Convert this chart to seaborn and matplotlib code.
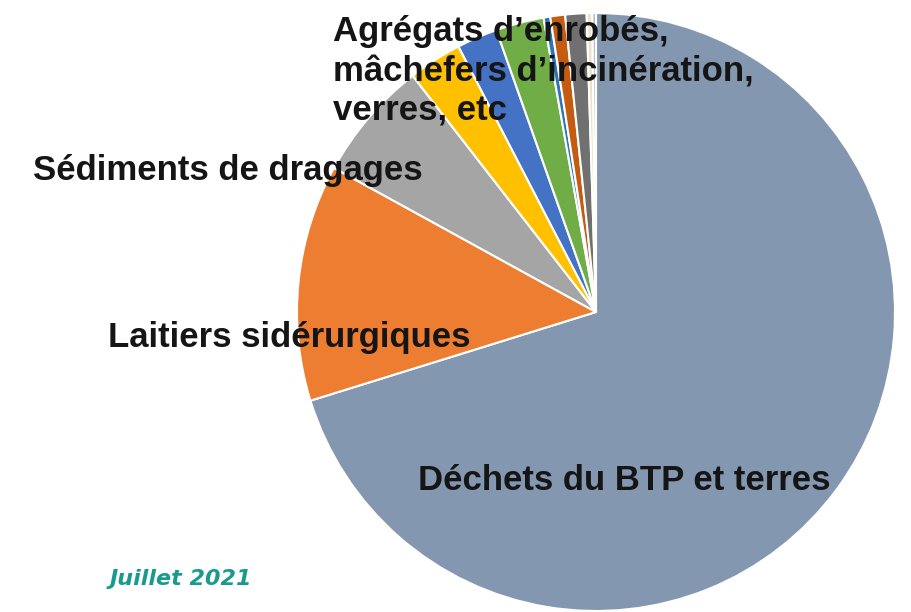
import matplotlib
matplotlib.use("Agg")
import matplotlib.pyplot as plt
import seaborn as sns

# ---- data (percent shares, clockwise from 12 o'clock) ----
categories = [
    "Déchets du BTP et terres",
    "Laitiers sidérurgiques",
    "Sédiments de dragages",
    "Agrégats d'enrobés",
    "Mâchefers d'incinération",
    "Verres",
    "Autres 1",
    "Autres 2",
    "Autres 3",
    "Autres 4",
    "Autres 5",
]
values = [70.25, 12.8, 6.5, 2.9, 2.2, 2.6, 0.36, 0.8, 1.15, 0.3, 0.2]
colors = ["#8497B0", "#ED7D31", "#A5A5A5", "#FFC000", "#4472C4", "#70AD47",
          "#2E75B6", "#C55A11", "#707070", "#E8E4C8", "#B4BDC8"]

labels_text = [
    "Déchets du BTP et terres",
    "Laitiers sidérurgiques",
    "Sédiments de dragages",
    "Agrégats d\u2019enrobés,\nmâchefers d\u2019incinération,\nverres, etc",
]
date_text = "Juillet 2021"

# ---- figure ----
sns.set_theme(style="white")
plt.rcParams["font.family"] = ["Liberation Sans", "DejaVu Sans"]

W, H = 911, 612
fig = plt.figure(figsize=(W / 100, H / 100), dpi=100)
ax = fig.add_axes([0, 0, 1, 1])

ax.pie(values, colors=colors, startangle=90, counterclock=False,
       radius=299, center=(596, H - 312),
       wedgeprops=dict(edgecolor="white", linewidth=1.5))
ax.set_xlim(0, W)
ax.set_ylim(0, H)
ax.set_aspect("auto")
ax.axis("off")

fs = 25
txt_color = "#151515"
# label positions (pixel layout, top-left origin, baseline)
ax.text(418, H - 490, labels_text[0], fontsize=fs, fontweight="bold",
        color=txt_color, ha="left", va="baseline")
ax.text(108, H - 347, labels_text[1], fontsize=fs, fontweight="bold",
        color=txt_color, ha="left", va="baseline")
ax.text(33, H - 180, labels_text[2], fontsize=fs, fontweight="bold",
        color=txt_color, ha="left", va="baseline")
ax.text(333, H - 121, labels_text[3], fontsize=fs, fontweight="bold",
        color=txt_color, ha="left", va="baseline", linespacing=1.26)

ax.text(110, H - 585, date_text, fontsize=16, fontweight="bold",
        fontstyle="italic", color="#1A9A8E", ha="left", va="baseline",
        family="DejaVu Sans")

fig.savefig("out.png", dpi=100, facecolor="white")
